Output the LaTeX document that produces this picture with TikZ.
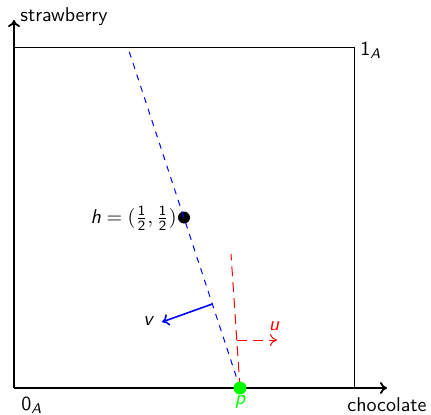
\documentclass[tikz,border=0pt]{standalone}
\usepackage{amsmath}
\usetikzlibrary{arrows.meta}
\newcommand\sfi[1]{\text{\sffamily\itshape #1}}
\newcommand\sfu[1]{\text{\sffamily #1}}
\begin{document}
\begin{tikzpicture}[x=0.5pt,y=0.5pt,
  every node/.style={font=\sffamily, inner sep=0pt},
  tip/.style={-{To[length=3.5pt,width=6pt]}},
  axis/.style={line width=0.9pt,tip},
  dotstyle/.style={circle, inner sep=0pt, minimum size=#1}]
\useasboundingbox (0,0) rectangle (431,414);
% coordinates
\coordinate (O) at (14,26);
\coordinate (TR) at (354,367);
\coordinate (Ytip) at (14,394);
\coordinate (Xtip) at (387,26);
\coordinate (top) at (127.7,367);
\coordinate (vs) at (212.3,110);
\coordinate (ve) at (162,92);
\coordinate (rtop) at (231,160);
\coordinate (us) at (236.8,74);
\coordinate (ue) at (277,74);
% box and axes
\draw[line width=0.5pt] (O) rectangle (TR);
\draw[axis] (O) -- (Ytip);
\draw[axis] (O) -- (Xtip);
% lines
\node[dotstyle=6pt, fill=black] (h) at (184,196.5) {};
\coordinate (pc) at (240,26);
\draw[blue, line width=0.5pt, dashed] (pc) -- (top);
\draw[red, line width=0.5pt, dash pattern=on 5pt off 3pt] (pc) -- (rtop);
\node[dotstyle=6.5pt, fill=green] (p) at (pc) {};
\draw[blue, thick, tip] (vs) -- (ve);
\draw[red, line width=0.5pt, dash pattern=on 5pt off 3pt, tip] (us) -- (ue);
% labels
\node[anchor=base west] (sl) at (20,393) {strawberry};
\node[anchor=base west] (cl) at (347,3) {chocolate};
\node[anchor=base west] (one) at (360,359) {$\sfu{1}_{\sfi{A}}$};
\node[anchor=base west] (zero) at (21,4) {$\sfu{0}_{\sfi{A}}$};
\node[anchor=east] (hl) at (177,196) {$\sfi{h}=(\frac{\sfu{1}}{\sfu{2}},\frac{\sfu{1}}{\sfu{2}})$};
\node (vl) at (148,93) {\itshape v};
\node[red] (ul) at (274,88) {\itshape u};
\node[green, anchor=base] (pl) at (240,10) {\itshape p};
\end{tikzpicture}
\end{document}
